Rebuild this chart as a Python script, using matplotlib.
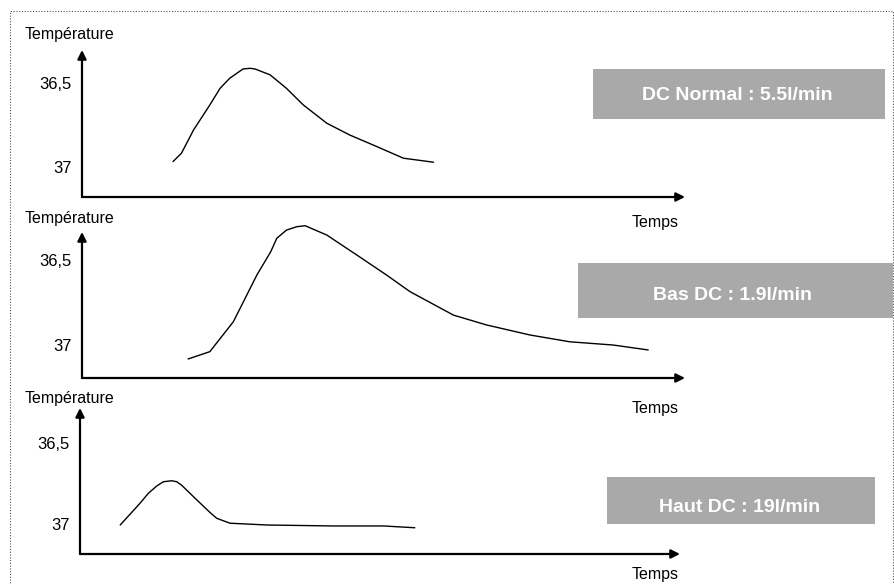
import matplotlib
matplotlib.use("Agg")
import matplotlib.pyplot as plt
from matplotlib.patches import Rectangle
from matplotlib import font_manager

# ---------------- data ----------------
panel_titles = ["DC Normal : 5.5l/min", "Bas DC : 1.9l/min", "Haut DC : 19l/min"]
ytick_values = [36.5, 37]
ytick_labels = ["36,5", "37"]
y_label = "Température"
x_label = "Temps"

normal_t = [15.1, 16.5, 18.5, 21.2, 22.9, 24.5, 26.7, 27.9, 28.7, 31.2, 33.9, 36.7, 40.6, 44.4,
            48.9, 53.3, 58.3]
normal_temp = [36.968, 36.918, 36.780, 36.631, 36.532, 36.472, 36.417, 36.413, 36.417, 36.452,
               36.532, 36.631, 36.740, 36.810, 36.879, 36.948, 36.972]

low_t = [17.6, 21.2, 25.1, 29.0, 31.3, 32.3, 33.9, 35.6, 37.0, 40.6, 45.6, 50.5, 54.4, 61.6,
         67.1, 74.3, 80.9, 88.1, 93.9]
low_temp = [37.082, 37.039, 36.863, 36.588, 36.451, 36.372, 36.324, 36.304, 36.298, 36.353,
            36.471, 36.588, 36.686, 36.824, 36.882, 36.941, 36.981, 37.000, 37.029]

high_t = [6.7, 10.0, 11.4, 12.8, 13.9, 15.3, 16.1, 16.9, 18.9, 21.7, 22.8, 25.0, 31.1, 42.2,
          50.6, 55.8]
high_temp = [37.006, 36.872, 36.810, 36.765, 36.739, 36.733, 36.739, 36.759, 36.831, 36.930,
             36.965, 36.995, 37.006, 37.012, 37.012, 37.023]

# ---------------- fonts ----------------
names = {f.name for f in font_manager.fontManager.ttflist}
has_narrow = "Liberation Sans Narrow" in names
base_family = ["Liberation Sans", "DejaVu Sans"]
box_family = ["Liberation Sans Narrow", "Liberation Sans", "DejaVu Sans"] if has_narrow else base_family
box_size = 17 if has_narrow else 14
plt.rcParams["font.family"] = base_family

W, H = 895, 584
fig = plt.figure(figsize=(W / 100, H / 100), dpi=100)
fig.patch.set_facecolor("white")


def fx(px):
    return px / W


def fy(py):
    return 1 - py / H


panels = [
    dict(l=82, r=685, t=50, b=197, ylim=(37.179, 36.304), t_data=normal_t, y_data=normal_temp,
         ylab_y=35, xlab_y=222,
         box=(593, 69, 885, 119), text_xy=(737, 96)),
    dict(l=82, r=685, t=232, b=378, ylim=(37.194, 36.335), t_data=low_t, y_data=low_temp,
         ylab_y=218, xlab_y=408,
         box=(578, 263, 893, 318), text_xy=(733, 295)),
    dict(l=80, r=680, t=408, b=554, ylim=(37.185, 36.284), t_data=high_t, y_data=high_temp,
         ylab_y=398, xlab_y=575,
         box=(607, 477, 875, 524), text_xy=(740, 507)),
]

for p, title in zip(panels, panel_titles):
    ax = fig.add_axes([fx(p["l"]), fy(p["b"]), fx(p["r"] - p["l"]), (p["b"] - p["t"]) / H])
    ax.set_facecolor("none")
    ax.set_xlim(0, 100)
    ax.set_ylim(*p["ylim"])
    for s in ax.spines.values():
        s.set_visible(False)
    ax.set_xticks([])
    ax.set_yticks(ytick_values)
    ax.set_yticklabels(ytick_labels, fontsize=12)
    ax.tick_params(axis="y", length=0, pad=7.5)
    ax.plot(p["t_data"], p["y_data"], color="black", lw=1.0, clip_on=False,
            solid_capstyle="round", solid_joinstyle="round")
    arrow = dict(arrowstyle="-|>", color="black", lw=1.6, mutation_scale=13,
                 shrinkA=0, shrinkB=0)
    ax.annotate("", xy=(1, 0), xytext=(0, 0), xycoords="axes fraction",
                textcoords="axes fraction", arrowprops=arrow, annotation_clip=False)
    ax.annotate("", xy=(0, 1), xytext=(0, 0), xycoords="axes fraction",
                textcoords="axes fraction", arrowprops=arrow, annotation_clip=False)

    fig.text(fx(25), fy(p["ylab_y"]), y_label, ha="left", va="center", fontsize=11.5)
    fig.text(fx(655), fy(p["xlab_y"]), x_label, ha="center", va="center", fontsize=11.5)

    x0, y0, x1, y1 = p["box"]
    fig.add_artist(Rectangle((fx(x0), fy(y1)), fx(x1 - x0), (y1 - y0) / H,
                             transform=fig.transFigure, facecolor="#a9a9a9",
                             edgecolor="none", zorder=1))
    fig.text(fx(p["text_xy"][0]), fy(p["text_xy"][1]), title, ha="center", va="center",
             color="white", fontweight="bold", fontsize=box_size, family=box_family, zorder=2)

# dotted frame
fig.add_artist(Rectangle((fx(10), -0.05), fx(893 - 10), fy(11) + 0.05,
                         transform=fig.transFigure, facecolor="none", edgecolor="#555555",
                         lw=0.8, linestyle=(0, (1, 1.5)), zorder=0))

fig.savefig("out.png", dpi=100, facecolor="white")
